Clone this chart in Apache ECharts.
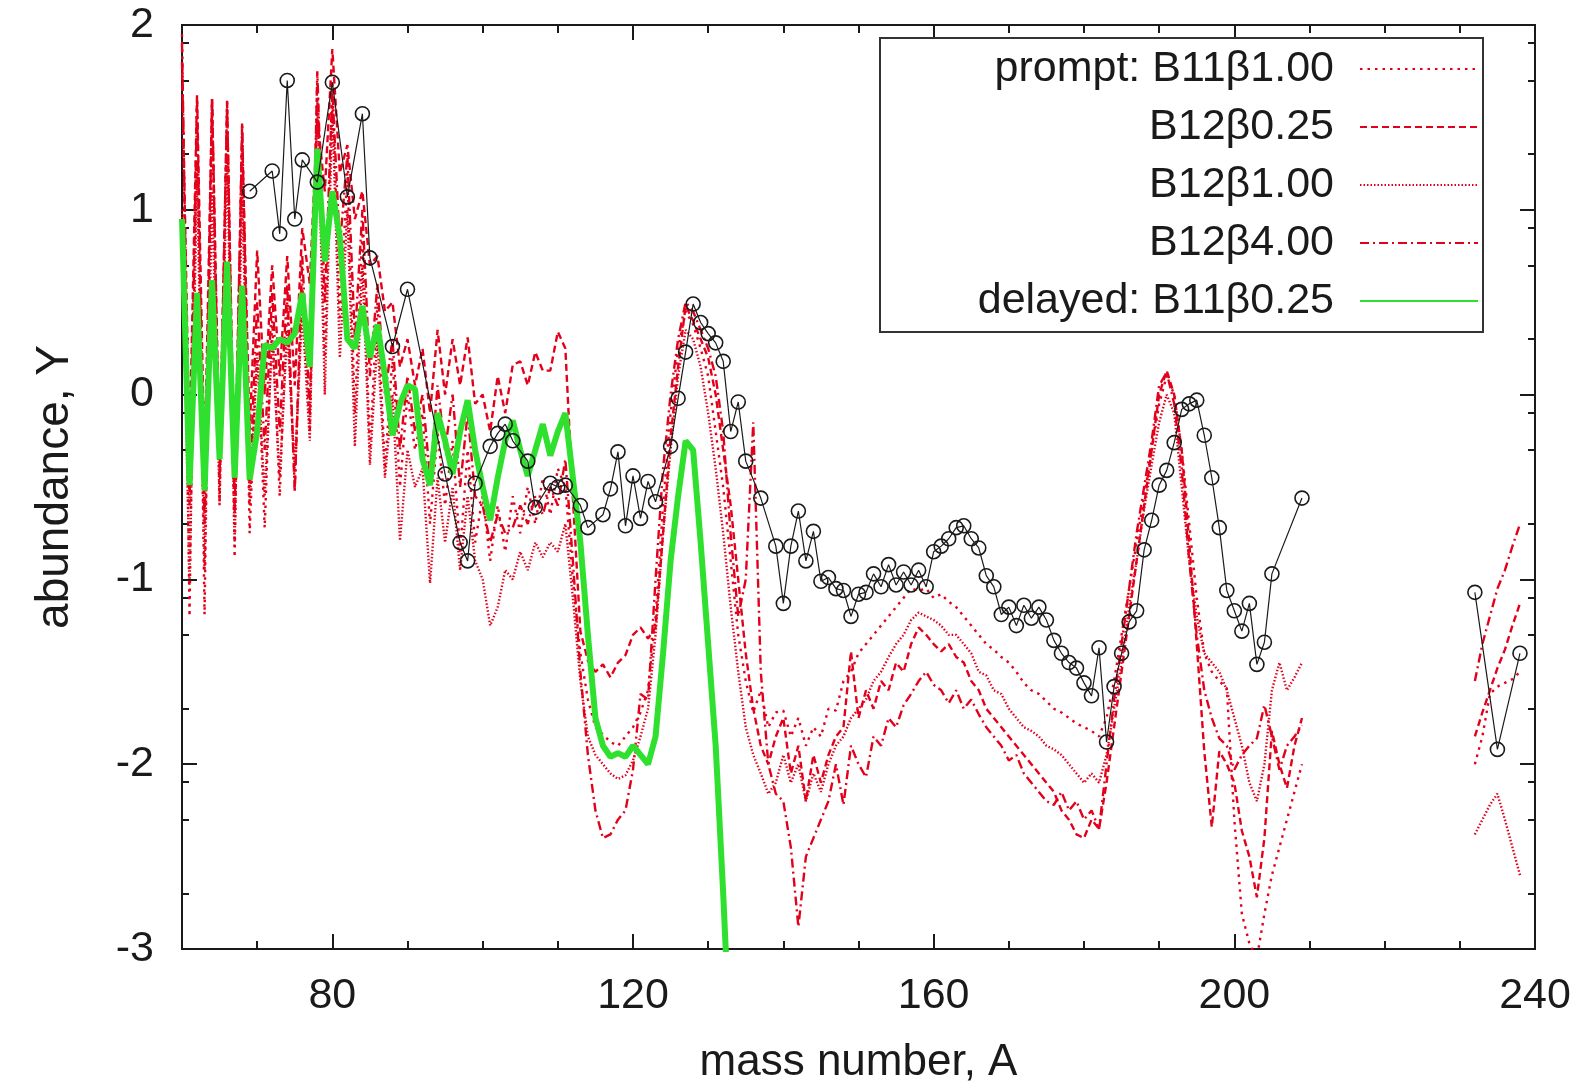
<!DOCTYPE html>
<html>
<head>
<meta charset="utf-8">
<script src="https://cdn.jsdelivr.net/npm/echarts@6/dist/echarts.min.js"></script>
<style>
  html, body { margin: 0; padding: 0; background: #fff; }
  #chart { width: 1589px; height: 1090px; }
</style>
</head>
<body>
<div id="chart"></div>
<script>
// Model abundances are given for every mass number from 60 to 209, plus the 232-238 tail.
const massStart = 60;
const tailMass = [232, 233, 234, 235, 236, 237, 238];

const promptB11b100 = [
  1.95, -1.2, 1.6, -1.19, 1.58, -0.6, 1.6, -0.88, 1.45, -0.75,
  0.3, -0.72, 0.4, -0.55, 0.5, -0.5, 0.6, -0.2, 1.72, 0.2,
  1.7, 0.4, 1.2, -0.1, 0.9, -0.3, 0.5, -0.4, 0.2, -0.5,
  0.0, -0.3, -0.1, -0.7, -0.2, -0.6, -0.25, -0.85, -0.3, -0.8,
  -0.55, -0.9, -0.6, -0.85, -0.55, -0.75, -0.5, -0.7, -0.45, -0.65, -0.4, -0.5,
  -1.0, -1.4, -1.65, -1.8, -1.84, -1.88, -1.9, -1.85, -1.8, -1.72, -1.6, -1.2, -0.6, -0.1, 0.25,
  0.45, 0.38, 0.25, 0.1, -0.2, -0.5, -0.9, -1.3, -1.55, -1.72, -1.6, -1.8, -1.72, -1.71, -1.85, -1.75, -1.9, -1.8, -1.85,
  -1.7, -1.71, -1.55, -1.5, -1.4, -1.35, -1.3, -1.25, -1.2, -1.15, -1.1, -1.05, -1.06, -1.05, -1.1,
  -1.08, -1.12, -1.15, -1.2, -1.25, -1.3, -1.35, -1.38, -1.42, -1.45, -1.5, -1.56, -1.6, -1.62, -1.66,
  -1.7, -1.72, -1.75, -1.78, -1.8, -1.82, -1.85, -1.75, -1.55, -1.3, -1.05, -0.8, -0.55, -0.3, -0.05, 0.1,
  0.0, -0.3, -0.7, -1.1, -1.4, -1.5, -1.55, -1.59, -2.3, -2.81, -2.97, -3.05, -2.81, -2.6, -2.45, -2.3, -2.15, -2.0
];
const promptB11b100Tail = [-2.0, -1.85, -1.62, -1.58, -1.56, -1.54, -1.5];

const b12b025 = [
  1.8, -0.3, 1.62, -0.4, 1.6, -0.35, 1.55, -0.5, 1.4, -0.2,
  0.78, 0.0, 0.7, 0.1, 0.75, 0.05, 0.9, 0.6, 1.5, 1.1,
  1.87, 1.2, 1.35, 0.95, 1.1, 0.7, 0.75, 0.45, 0.5, 0.15,
  0.3, 0.05, 0.25, -0.1, 0.35, 0.0, 0.3, 0.05, 0.31, -0.05,
  0.0, -0.2, 0.1, -0.1, 0.16, 0.18, 0.05, 0.23, 0.13, 0.13, 0.34, 0.25,
  -0.56, -1.28, -1.44, -1.5, -1.46, -1.53, -1.45, -1.41, -1.3, -1.26, -1.32, -1.26, -0.75, -0.23, 0.15,
  0.48, 0.4, 0.3, 0.2, 0.0, -0.3, -0.6, -1.0, -1.4, -1.7, -1.9, -2.0, -1.85, -1.75, -2.05, -1.9, -2.2, -1.95, -2.1,
  -1.95, -1.85, -1.8, -1.39, -1.75, -1.6, -1.7, -1.55, -1.6, -1.45, -1.5, -1.35, -1.26, -1.3, -1.35,
  -1.39, -1.35, -1.42, -1.45, -1.55, -1.6, -1.7, -1.75, -1.8, -1.85, -1.9, -1.95, -2.0, -2.05, -2.1,
  -2.15, -2.25, -2.3, -2.38, -2.4, -2.3, -2.35, -2.1, -1.8, -1.5, -1.2, -0.9, -0.6, -0.3, 0.0, 0.13,
  0.0, -0.3, -0.8, -1.35, -1.93, -2.34, -1.93, -2.0, -2.1, -2.36, -2.5, -2.72, -2.4, -1.82, -2.0, -2.13, -1.9, -1.75
];
const b12b025Tail = [-1.85, -1.72, -1.6, -1.48, -1.38, -1.25, -1.13];

const b12b100 = [
  1.0, -1.03, 1.2, -0.95, 1.1, -0.58, 1.3, -0.8, 1.1, -0.6,
  0.2, -0.55, 0.3, -0.45, 0.35, -0.4, 0.45, -0.25, 1.6, 0.0,
  1.55, 0.2, 1.0, -0.28, 0.7, -0.38, 0.3, -0.45, 0.0, -0.79,
  -0.3, -0.5, -0.4, -1.02, -0.45, -0.8, -0.5, -0.95, -0.55, -0.9,
  -1.0, -1.25, -1.15, -0.95, -1.0, -0.85, -0.95, -0.8, -0.88, -0.8, -0.85, -0.7,
  -1.1, -1.55, -1.85, -1.95, -2.0, -2.05, -2.08, -2.06, -1.98, -1.85, -1.7, -1.3, -0.75, -0.3, 0.1,
  0.35, 0.3, 0.15, -0.1, -0.4, -0.75, -1.15, -1.5, -1.8, -1.95, -2.05, -2.16, -2.1, -1.95, -2.1, -2.0, -2.2, -2.05, -2.15,
  -2.0, -1.9, -1.85, -1.75, -1.7, -1.65, -1.55, -1.5, -1.42, -1.35, -1.3, -1.22, -1.18, -1.2, -1.22,
  -1.25, -1.3, -1.3, -1.35, -1.4, -1.5, -1.52, -1.6, -1.62, -1.7, -1.75, -1.8, -1.82, -1.85, -1.9,
  -1.92, -1.95, -2.0, -2.05, -2.1, -2.05, -2.1, -1.95, -1.7, -1.45, -1.15, -0.9, -0.62, -0.38, -0.15, 0.0,
  -0.1, -0.5, -0.9, -1.2, -1.4, -1.45, -1.5, -1.6, -1.75, -1.9, -2.1, -2.2, -2.0, -1.6, -1.45, -1.6, -1.53, -1.45
];
const b12b100Tail = [-2.38, -2.3, -2.22, -2.16, -2.3, -2.45, -2.6];

const b12b400 = [
  1.9, -0.6, 1.55, -0.7, 1.6, -0.45, 1.58, -0.65, 1.47, -0.5,
  0.5, -0.3, 0.55, -0.2, 0.6, -0.53, 0.75, -0.1, 1.75, 0.5,
  1.65, 0.8, 1.3, 0.3, 1.0, 0.1, 0.6, 0.0, 0.3, -0.3,
  0.1, -0.2, 0.0, -0.45, 0.05, -0.3, 0.0, -0.5, -0.1, -0.55,
  -0.6, -0.8, -0.65, -0.75, -0.72, -0.6, -0.7, -0.55, -0.65, -0.5, -0.6, -0.35,
  -0.9, -1.5, -1.95, -2.25, -2.4, -2.38, -2.3, -2.25, -2.03, -1.62, -1.65, -1.0, -0.4, 0.0, 0.3,
  0.5, 0.45, 0.35, 0.25, 0.1, -0.2, -0.76, -1.2, -1.0, -0.15, -1.5, -2.0, -2.16, -2.2, -2.45, -2.88, -2.5, -2.4, -2.3,
  -2.2, -2.0, -2.22, -1.9, -2.0, -2.07, -1.85, -1.9, -1.75, -1.8, -1.68, -1.62, -1.55, -1.5, -1.57,
  -1.6, -1.67, -1.6, -1.7, -1.65, -1.73, -1.8, -1.85, -1.9, -1.98, -1.95, -2.05, -2.1, -2.15, -2.2,
  -2.22, -2.15, -2.25, -2.2, -2.3, -2.25, -2.35, -2.0, -1.65, -1.35, -1.05, -0.75, -0.5, -0.25, 0.05, 0.12,
  -0.05, -0.4, -0.9, -1.3, -1.6, -1.75, -1.86, -1.9, -2.03, -1.95, -1.9, -1.86, -1.68, -1.85, -2.03, -1.9, -1.85, -1.79
];
const b12b400Tail = [-1.55, -1.35, -1.2, -1.05, -0.95, -0.82, -0.70];

// Delayed model, mass numbers 60-133 (it drops off the bottom of the axis after 132).
const delayedB11b025 = [
  0.95, -0.49, 0.55, -0.52, 0.62, -0.35, 0.72, -0.45, 0.59, -0.46,
  -0.2, 0.27, 0.25, 0.3, 0.28, 0.33, 0.55, 0.15, 1.33, 0.72,
  1.1, 0.85, 0.3, 0.25, 0.48, 0.2, 0.38, 0.1, -0.22, -0.05,
  0.05, 0.03, -0.35, -0.49, -0.1, -0.25, -0.43, -0.2, -0.03, -0.3,
  -0.5, -0.68, -0.45, -0.25, -0.14, -0.3, -0.44, -0.3, -0.16, -0.33, -0.2, -0.1,
  -0.45, -0.8, -1.3, -1.75, -1.9, -1.96, -1.94, -1.96, -1.9, -1.95, -2.0, -1.85, -1.4, -0.9, -0.55,
  -0.25, -0.3, -0.8, -1.35, -1.9, -2.7, -3.6
];

// Solar r-process abundances (open circles).
const obsMass = [
  69, 72, 73, 74, 75, 76, 78, 80, 82, 84, 85, 88, 90,
  95, 97, 98, 99, 101, 102, 103, 104, 106, 107, 109, 110, 111, 113, 114,
  116, 117, 118, 119, 120, 121, 122, 123, 125, 126, 127, 128, 129, 130, 131, 132, 133, 134, 135,
  137, 139, 140, 141, 142, 143, 144, 145, 146, 147, 148, 149, 150, 151, 152, 153, 154, 155, 156,
  157, 158, 159, 160, 161, 162, 163, 164, 165, 166, 167, 168, 169, 170, 171, 172, 173, 174, 175,
  176, 177, 178, 179, 180, 181, 182, 183, 184, 185, 186, 187, 188, 189, 190, 191, 192, 193, 194,
  195, 196, 197, 198, 199, 200, 201, 202, 203, 204, 205, 209
];
const obsAbund = [
  1.10, 1.21, 0.87, 1.70, 0.95, 1.27, 1.15, 1.69, 1.07, 1.52, 0.74, 0.26, 0.57,
  -0.43, -0.80, -0.90, -0.48, -0.28, -0.21, -0.16, -0.25, -0.36, -0.61, -0.48, -0.50, -0.49, -0.60, -0.72,
  -0.65, -0.51, -0.31, -0.71, -0.44, -0.67, -0.47, -0.58, -0.28, -0.02, 0.23, 0.49, 0.39, 0.33, 0.28, 0.18, -0.20, -0.04, -0.36,
  -0.56, -0.82, -1.13, -0.82, -0.63, -0.90, -0.74, -1.01, -0.99, -1.05, -1.06, -1.20, -1.08, -1.07, -0.97, -1.04, -0.92, -1.03, -0.96,
  -1.03, -0.95, -1.04, -0.85, -0.82, -0.78, -0.72, -0.71, -0.78, -0.83, -0.98, -1.04, -1.19, -1.15, -1.25, -1.14, -1.21, -1.15, -1.22,
  -1.33, -1.40, -1.45, -1.48, -1.56, -1.63, -1.37, -1.88, -1.58, -1.40, -1.23, -1.17, -0.84, -0.68, -0.49, -0.41, -0.26, -0.08, -0.05,
  -0.03, -0.22, -0.45, -0.72, -1.06, -1.17, -1.28, -1.13, -1.46, -1.34, -0.97, -0.56
];
const obsTailMass = [232, 235, 238];
const obsTailAbund = [-1.07, -1.92, -1.40];

// Axis ticks: labelled majors and the unlabelled minor marks.
const xMajor = [80, 120, 160, 200, 240];
const yMinor = [-2.699, -2.301, -2.097, -1.699, -1.301, -1.097, -0.699, -0.301, -0.097,
                0.301, 0.699, 0.903, 1.301, 1.699, 1.903];

const legendNames = ['prompt: B11\u03b21.00', 'B12\u03b20.25', 'B12\u03b21.00', 'B12\u03b24.00', 'delayed: B11\u03b20.25'];

function modelPairs(values, tail) {
  const out = values.map((v, i) => [massStart + i, v]);
  if (tail) {
    out.push([220, '-']); // no model values between the two mass ranges
    tail.forEach((v, i) => out.push([tailMass[i], v]));
  }
  return out;
}
function zipPairs(xs, ys) { return xs.map((x, i) => [x, ys[i]]); }

const font = '"Liberation Sans", Arial, Helvetica, sans-serif';
const ink = '#1a1a1a';
const red = '#e3001b';

function xAxisCfg(position, major, withLabel) {
  const cfg = {
    type: 'value', position: position, min: 60, max: 240,
    axisLine: { show: false, onZero: false },
    splitLine: { show: false },
    axisTick: { show: true, inside: true, length: major ? 15 : 8, lineStyle: { color: ink, width: 2 } },
    axisLabel: { show: false }
  };
  if (major) {
    cfg.axisTick.customValues = xMajor;
  } else {
    cfg.interval = 10;
  }
  if (withLabel) {
    cfg.axisLabel = { show: true, customValues: xMajor, fontSize: 43, color: ink, fontFamily: font, margin: 26 };
    cfg.name = 'mass number, A';
    cfg.nameLocation = 'middle';
    cfg.nameGap = 92;
    cfg.nameTextStyle = { fontSize: 44, color: ink, fontFamily: font };
  }
  return cfg;
}
function yAxisCfg(position, major, withLabel) {
  const cfg = {
    type: 'value', position: position, min: -3, max: 2,
    axisLine: { show: false, onZero: false },
    splitLine: { show: false },
    axisTick: { show: true, inside: true, length: major ? 15 : 7, lineStyle: { color: ink, width: 2 } },
    axisLabel: { show: false }
  };
  if (major) {
    cfg.interval = 1;
  } else {
    cfg.axisTick.customValues = yMinor;
  }
  if (withLabel) {
    cfg.axisLabel = { show: true, fontSize: 43, color: ink, fontFamily: font, margin: 28 };
    cfg.name = 'abundance, Y';
    cfg.nameLocation = 'middle';
    cfg.nameGap = 104;
    cfg.nameRotate = 90;
    cfg.nameTextStyle = { fontSize: 46, color: ink, fontFamily: font };
  }
  return cfg;
}

function redSeries(name, values, tail, dash) {
  return {
    name: name, type: 'line', data: modelPairs(values, tail),
    showSymbol: false, symbol: 'none', connectNulls: false, animation: false,
    lineStyle: { color: red, width: 2.4, type: dash },
    itemStyle: { color: red },
    z: 2
  };
}

const chart = echarts.init(document.getElementById('chart'), null, { renderer: 'canvas' });
chart.setOption({
  backgroundColor: '#fff',
  animation: false,
  grid: {
    left: 182, right: 54, top: 25, bottom: 138,
    show: true, borderColor: ink, borderWidth: 2, backgroundColor: 'transparent'
  },
  xAxis: [
    xAxisCfg('bottom', true, true),
    xAxisCfg('bottom', false, false),
    xAxisCfg('top', true, false),
    xAxisCfg('top', false, false)
  ],
  yAxis: [
    yAxisCfg('left', true, true),
    yAxisCfg('left', false, false),
    yAxisCfg('right', true, false),
    yAxisCfg('right', false, false)
  ],
  legend: {
    data: legendNames,
    orient: 'vertical',
    right: 106, top: 38,
    align: 'right',
    itemWidth: 118, itemHeight: 14, itemGap: 10,
    padding: [7, 4, 7, 10],
    backgroundColor: '#fff',
    borderColor: '#333', borderWidth: 2, borderRadius: 0,
    selectedMode: false,
    itemStyle: { opacity: 0 },
    textStyle: { fontSize: 43, lineHeight: 48, color: ink, fontFamily: font, width: 444, align: 'right', padding: [0, 21, 0, 0] }
  },
  series: [
    redSeries(legendNames[0], promptB11b100, promptB11b100Tail, [2.5, 5]),
    redSeries(legendNames[1], b12b025, b12b025Tail, [7, 4]),
    redSeries(legendNames[2], b12b100, b12b100Tail, [1.5, 2]),
    redSeries(legendNames[3], b12b400, b12b400Tail, [9, 4, 2, 4]),
    {
      name: legendNames[4], type: 'line', data: modelPairs(delayedB11b025, null),
      showSymbol: false, symbol: 'none', animation: false,
      lineStyle: { color: '#2fe02f', width: 6 },
      itemStyle: { color: '#2fe02f' },
      z: 3
    },
    {
      name: 'solar r', type: 'line', data: zipPairs(obsMass, obsAbund),
      symbol: 'circle', symbolSize: 14, showSymbol: true, animation: false,
      lineStyle: { color: ink, width: 1.2 },
      itemStyle: { color: 'rgba(255,255,255,0)', borderColor: ink, borderWidth: 1.6 },
      z: 4
    },
    {
      name: 'solar r tail', type: 'line', data: zipPairs(obsTailMass, obsTailAbund),
      symbol: 'circle', symbolSize: 14, showSymbol: true, animation: false,
      lineStyle: { color: ink, width: 1.2 },
      itemStyle: { color: 'rgba(255,255,255,0)', borderColor: ink, borderWidth: 1.6 },
      z: 4
    }
  ]
});
</script>
</body>
</html>
